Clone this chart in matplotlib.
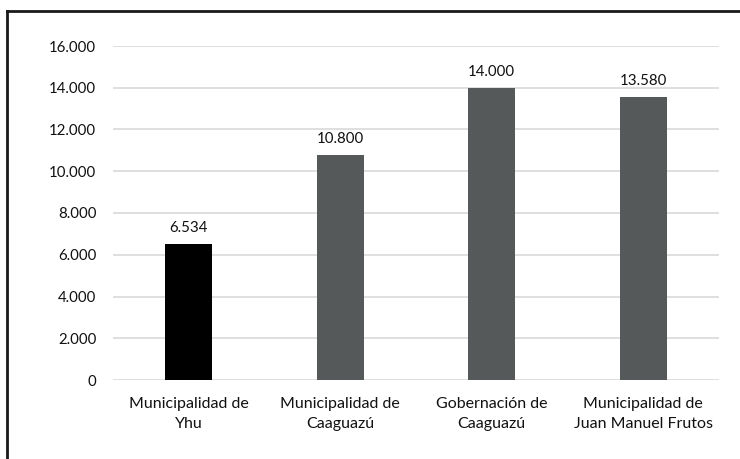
import matplotlib
matplotlib.use("Agg")
import matplotlib.pyplot as plt
from matplotlib.lines import Line2D
from matplotlib.ticker import FuncFormatter

categories = ["Municipalidad de\nYhu", "Municipalidad de\nCaaguazú",
              "Gobernación de\nCaaguazú", "Municipalidad de\nJuan Manuel Frutos"]
values = [6534, 10800, 14000, 13580]
bar_colors = ["#000000", "#555959", "#555959", "#555959"]
yticks = [0, 2000, 4000, 6000, 8000, 10000, 12000, 14000, 16000]

plt.rcParams["font.family"] = ["Lato", "DejaVu Sans"]

def fmt(v, pos=None):
    return f"{int(v):,}".replace(",", ".")

fig = plt.figure(figsize=(7.4, 4.59), dpi=100)
ax = fig.add_axes([113 / 740, 1 - 380 / 459, 606 / 740, 334 / 459])

x = range(len(categories))
bars = ax.bar(x, values, width=0.31, color=bar_colors, zorder=3)
for xi, v in zip(x, values):
    ax.annotate(fmt(v), (xi, v), xytext=(0, 6), textcoords="offset points",
                ha="center", va="bottom", fontsize=10.8, color="#111111")

ax.set_xlim(-0.5, len(categories) - 0.5)
ax.set_ylim(0, 16000)
ax.set_yticks(yticks)
ax.yaxis.set_major_formatter(FuncFormatter(fmt))
ax.set_xticks(list(x))
ax.set_xticklabels(categories, fontsize=11.5, color="#111111", linespacing=1.6)
ax.tick_params(axis="y", length=0, pad=12, labelsize=10.8, labelcolor="#111111")
ax.tick_params(axis="x", length=0, pad=12)
ax.grid(axis="y", color="#d9d9d9", linewidth=1.2, zorder=0)
for s in ax.spines.values():
    s.set_visible(False)

# outer frame (top and left edges)
fig.add_artist(Line2D([6.5 / 740, 1.0], [1 - 11 / 459, 1 - 11 / 459],
                      transform=fig.transFigure, color="#1a1a1a", linewidth=2))
fig.add_artist(Line2D([6.5 / 740, 6.5 / 740], [0.0, 1 - 11 / 459],
                      transform=fig.transFigure, color="#1a1a1a", linewidth=2))

fig.savefig("out.png", dpi=100)
